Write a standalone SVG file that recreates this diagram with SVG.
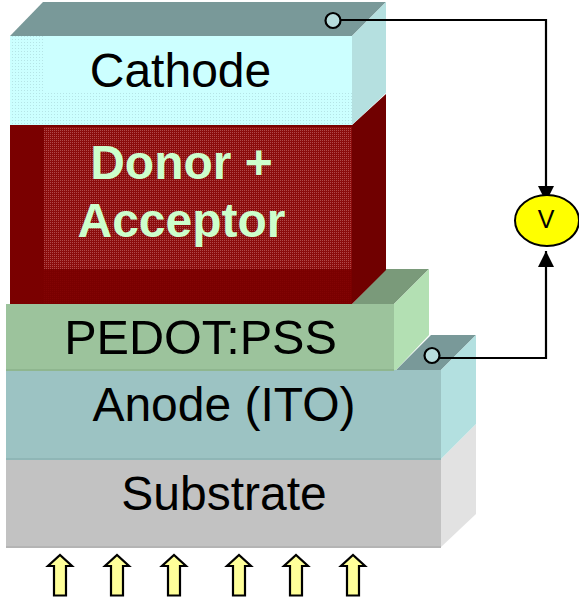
<svg xmlns="http://www.w3.org/2000/svg" width="579" height="600" viewBox="0 0 579 600">
<style>
text{font-family:"Liberation Sans",Arial,sans-serif;font-size:48px;fill:#000;text-anchor:middle}
.b{font-weight:bold;fill:#ccffcc}
.w{fill:none;stroke:#000;stroke-width:2.200}
.ar{fill:#ffff99;stroke:#000;stroke-width:2.200;stroke-linejoin:miter}
.dot{fill:#b7dcdc;stroke:#000;stroke-width:2.200}
.edge{stroke-width:2;fill:none}
</style>
<defs>
<pattern id="pc" width="3" height="3" patternUnits="userSpaceOnUse"><rect width="3" height="3" fill="#ccffff"/><rect width="1" height="1" fill="#b5e4e6"/></pattern>
<pattern id="pd" width="2" height="2" patternUnits="userSpaceOnUse"><rect width="2" height="2" fill="#8b0c0c"/><rect width="1" height="1" fill="#b04a4a"/></pattern>
<pattern id="pr" width="2" height="2" patternUnits="userSpaceOnUse"><rect width="2" height="2" fill="#7a0000"/><rect width="1" height="1" fill="#820404"/></pattern>
<marker id="tip" markerUnits="userSpaceOnUse" markerWidth="17" markerHeight="17" refX="16" refY="8" orient="auto"><path d="M0 0L16 8L0 16Z" fill="#000"/></marker>
<path id="up" d="M-6 40.500V11H-12L0 0L12 11H6V40.500Z"/>
</defs>
<g id="substrate">
<path d="M441 459L476 424V514L441 547Z" fill="#e2e2e2"/>
<rect x="6" y="459" width="435" height="88" fill="#c2c2c2"/>
<path class="edge" stroke="#b4b4b4" d="M6 547H441"/>
<text x="224" y="510">Substrate</text>
</g>
<g id="anode">
<path d="M396 370L431 335H476L441 370Z" fill="#799999"/>
<path d="M441 370L476 335V424L441 459Z" fill="#b3e0e0"/>
<rect x="6" y="370" width="435" height="89" fill="#9cc3c3"/>
<path class="edge" stroke="#8fb6b6" d="M6 459H441"/>
<text x="224" y="421">Anode (ITO)</text>
</g>
<g id="pedot">
<path d="M352 304L386 269H429L394 304Z" fill="#7a9a7a"/>
<path d="M394 304L429 269V335L396 370H394Z" fill="#b3e0b3"/>
<rect x="6" y="304" width="388" height="66" fill="#9cc39c"/>
<path class="edge" stroke="#8fb68f" d="M6 370H394"/>
<text x="200.500" y="354" style="font-size:48.600px">PEDOT:PSS</text>
</g>
<g id="donor">
<path d="M352 125L386 94V270L352 304Z" fill="#700000"/>
<rect x="10" y="125" width="342" height="179" fill="#7a0000"/>
<rect x="44" y="269" width="308" height="35" fill="url(#pr)"/>
<rect x="44" y="127" width="308" height="142" fill="url(#pd)"/>
<text class="b" x="181.500" y="179">Donor +</text>
<text class="b" x="181.500" y="237">Acceptor</text>
</g>
<g id="cathode">
<path d="M10 36L43 2H386L352 36Z" fill="#799999"/>
<path d="M352 36L386 2V93L352 125Z" fill="#b5e0e0"/>
<rect x="10" y="36" width="342" height="89" fill="#ccffff"/>
<rect x="10" y="91" width="342" height="34" fill="url(#pc)"/>
<rect x="10" y="36" width="33" height="55" fill="url(#pc)"/>
<text x="180.500" y="87">Cathode</text>
</g>
<g id="connectors">
<path class="w" d="M340 20H546V202" marker-end="url(#tip)"/>
<path class="w" d="M439 358H546V251" marker-end="url(#tip)"/>
</g>
<g id="cathode-contact"><circle class="dot" cx="333" cy="20.500" r="7.500"/></g>
<g id="anode-contact"><circle class="dot" cx="432" cy="355.500" r="7.500"/></g>
<g id="voltmeter">
<ellipse cx="547" cy="220.500" rx="32" ry="25.500" fill="#ffff00" stroke="#000" stroke-width="2"/>
<text x="546" y="228" style="font-size:25px">V</text>
</g>
<g id="light">
<use href="#up" class="ar" x="60" y="555"/>
<use href="#up" class="ar" x="117" y="555"/>
<use href="#up" class="ar" x="174" y="555"/>
<use href="#up" class="ar" x="239" y="555"/>
<use href="#up" class="ar" x="296" y="555"/>
<use href="#up" class="ar" x="353" y="555"/>
</g>
</svg>
